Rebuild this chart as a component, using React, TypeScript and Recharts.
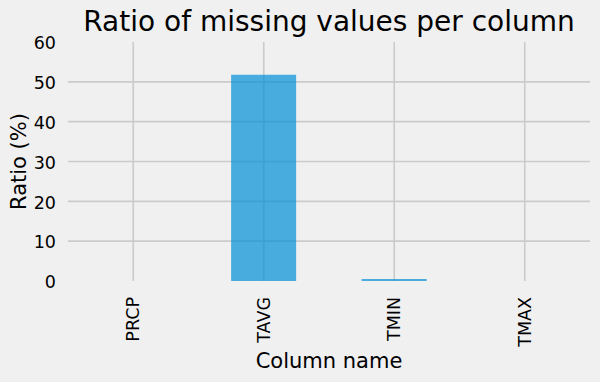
import * as React from 'react';
import { BarChart, Bar, XAxis, YAxis, CartesianGrid } from 'recharts';

const columns = ['PRCP', 'TAVG', 'TMIN', 'TMAX'];
const missingRatio = [0, 51.8, 0.5, 0];
const yTicks = [0, 10, 20, 30, 40, 50, 60];
const gridLevels = [10, 20, 30, 40, 50];

const data = columns.map((name, i) => ({ name, ratio: missingRatio[i] }));

const FONT = '"DejaVu Sans", sans-serif';

const renderXTick = ({ x, y, payload }: any) => (
  <text
    x={x}
    y={y}
    transform={`rotate(-90, ${x}, ${y})`}
    textAnchor="end"
    dominantBaseline="central"
    fontFamily={FONT}
    fontSize={17.5}
    fill="#000"
  >
    {payload.value}
  </text>
);

export default function App(): React.JSX.Element {
  return (
    <div style={{ position: 'fixed', top: 0, left: 0, width: 600, height: 382, background: '#f0f0f0' }}>
      <div
        style={{
          position: 'absolute',
          top: 5,
          left: 68,
          width: 522,
          textAlign: 'center',
          fontFamily: FONT,
          fontSize: 28,
          color: '#000',
        }}
      >
        Ratio of missing values per column
      </div>
      <BarChart
        width={600}
        height={382}
        data={data}
        margin={{ top: 42, right: 10, left: 0, bottom: 0 }}
        barCategoryGap="25%"
      >
        <CartesianGrid stroke="#cbcbcb" strokeWidth={1.6} horizontalValues={gridLevels} syncWithTicks />
        <XAxis
          dataKey="name"
          axisLine={false}
          tickLine={false}
          tick={renderXTick}
          interval={0}
          tickMargin={10}
          label={{ value: 'Column name', position: 'insideBottom', offset: 14, fontFamily: FONT, fontSize: 21, fill: '#000' } as any}
          height={101}
        />
        <YAxis
          type="number"
          domain={[0, 60]}
          ticks={yTicks}
          interval={0}
          width={68}
          axisLine={false}
          tickLine={false}
          tickMargin={6}
          tick={{ fontFamily: FONT, fontSize: 17.5, fill: '#000', dy: 1 } as any}
          label={{ value: 'Ratio (%)', angle: -90, position: 'insideLeft', offset: 19, style: { textAnchor: 'middle' }, fontFamily: FONT, fontSize: 21, fill: '#000' } as any}
        />
        <Bar dataKey="ratio" fill="#008fd5" fillOpacity={0.7} isAnimationActive={false} />
      </BarChart>
    </div>
  );
}
